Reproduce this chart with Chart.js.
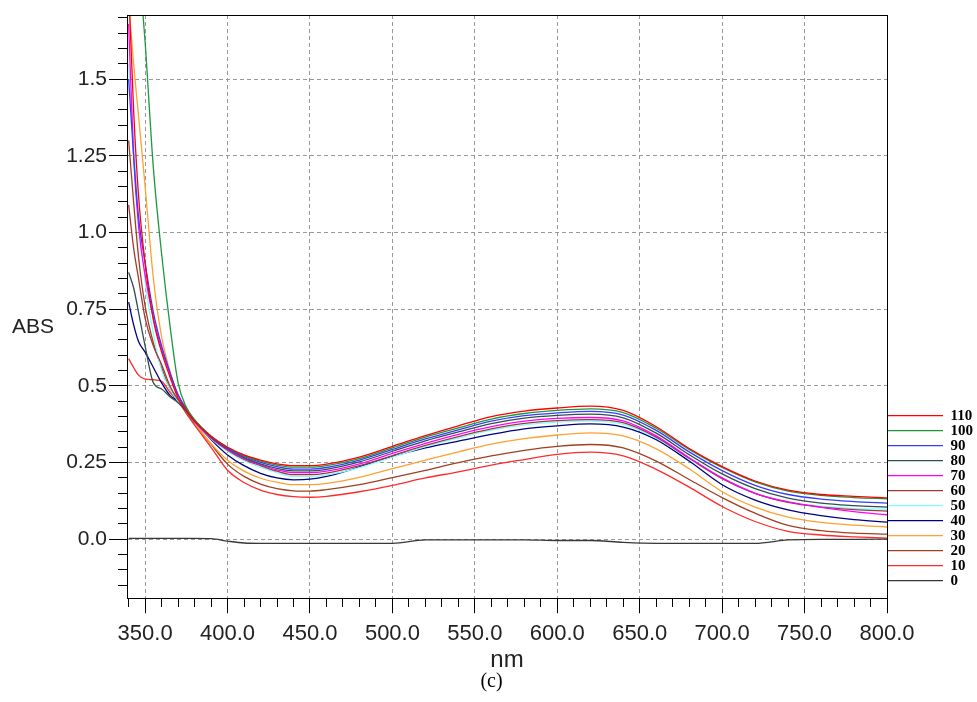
<!DOCTYPE html>
<html>
<head>
<meta charset="utf-8">
<script src="https://cdn.jsdelivr.net/npm/chart.js@4.4.1/dist/chart.umd.min.js"></script>
<style>
    html, body { margin: 0; padding: 0; background: #fff; overflow: hidden; }
    #wrap { position: relative; width: 977px; height: 702px; }
    #absLabel {
        position: absolute; left: 12px; top: 315px;
        font: 21px "Liberation Sans", Arial, sans-serif; line-height: 1; color: #222;
    }
</style>
</head>
<body>
<div id="wrap">
    <canvas id="absChart" width="977" height="702"></canvas>
    <div id="absLabel">ABS</div>
</div>
<script>
// 波长 (nm)
const wavelengths = [340, 343, 346, 350, 355, 360, 365, 370, 375, 380, 390, 400, 410, 420, 430, 440, 450, 460,
    480, 500, 520, 540, 560, 580, 600, 620, 640, 660, 680, 700, 720, 740, 760, 780, 800];

// 吸光度曲线
const abs110 = [1.80, 1.40, 1.12, 0.90, 0.715, 0.61, 0.53, 0.46, 0.420, 0.385, 0.335, 0.300, 0.275, 0.258, 0.246, 0.240, 0.240, 0.245,
    0.268, 0.303, 0.338, 0.370, 0.400, 0.418, 0.428, 0.434, 0.420, 0.367, 0.296, 0.237, 0.190, 0.160, 0.146, 0.140, 0.135];
const abs100 = [2.40, 2.15, 1.90, 1.62, 1.21, 0.93, 0.70, 0.51, 0.430, 0.390, 0.337, 0.300, 0.273, 0.255, 0.242, 0.235, 0.235, 0.240,
    0.263, 0.298, 0.333, 0.363, 0.392, 0.410, 0.420, 0.425, 0.413, 0.362, 0.293, 0.234, 0.187, 0.157, 0.143, 0.136, 0.132];
const abs90 = [1.50, 1.25, 1.05, 0.90, 0.74, 0.63, 0.545, 0.47, 0.425, 0.388, 0.335, 0.298, 0.270, 0.251, 0.237, 0.229, 0.229, 0.234,
    0.258, 0.293, 0.327, 0.357, 0.385, 0.403, 0.412, 0.417, 0.405, 0.355, 0.285, 0.224, 0.176, 0.146, 0.131, 0.123, 0.118];
const abs80 = [0.87, 0.82, 0.74, 0.63, 0.51, 0.49, 0.465, 0.445, 0.418, 0.385, 0.333, 0.295, 0.266, 0.246, 0.231, 0.223, 0.223, 0.228,
    0.252, 0.287, 0.321, 0.350, 0.377, 0.395, 0.404, 0.408, 0.396, 0.346, 0.276, 0.213, 0.165, 0.134, 0.118, 0.110, 0.105];
const abs70 = [1.68, 1.25, 1.02, 0.86, 0.72, 0.62, 0.54, 0.47, 0.420, 0.383, 0.330, 0.292, 0.263, 0.243, 0.226, 0.217, 0.217, 0.222,
    0.246, 0.280, 0.313, 0.342, 0.367, 0.385, 0.394, 0.397, 0.386, 0.337, 0.266, 0.200, 0.150, 0.122, 0.104, 0.090, 0.080];
const abs60 = [1.09, 0.95, 0.85, 0.72, 0.63, 0.57, 0.50, 0.455, 0.418, 0.383, 0.330, 0.290, 0.260, 0.240, 0.222, 0.211, 0.211, 0.216,
    0.240, 0.273, 0.306, 0.335, 0.360, 0.378, 0.387, 0.390, 0.380, 0.333, 0.264, 0.198, 0.150, 0.120, 0.105, 0.097, 0.092];
const abs50 = [1.55, 1.30, 1.05, 0.84, 0.67, 0.55, 0.49, 0.45, 0.418, 0.382, 0.328, 0.287, 0.256, 0.235, 0.217, 0.205, 0.205, 0.210,
    0.234, 0.268, 0.302, 0.330, 0.356, 0.373, 0.382, 0.385, 0.375, 0.330, 0.262, 0.198, 0.150, 0.122, 0.108, 0.101, 0.098];
const abs40 = [0.773, 0.70, 0.645, 0.61, 0.56, 0.51, 0.47, 0.45, 0.420, 0.385, 0.325, 0.275, 0.240, 0.215, 0.200, 0.194, 0.196, 0.205,
    0.236, 0.270, 0.298, 0.320, 0.342, 0.360, 0.370, 0.376, 0.366, 0.325, 0.255, 0.178, 0.128, 0.096, 0.077, 0.064, 0.056];
const abs30 = [1.75, 1.55, 1.38, 1.15, 0.85, 0.66, 0.55, 0.47, 0.430, 0.380, 0.312, 0.258, 0.222, 0.199, 0.186, 0.178, 0.178, 0.182,
    0.202, 0.230, 0.258, 0.285, 0.310, 0.328, 0.340, 0.347, 0.337, 0.295, 0.230, 0.155, 0.105, 0.072, 0.055, 0.046, 0.040];
const abs20 = [1.30, 1.10, 0.92, 0.76, 0.64, 0.56, 0.49, 0.45, 0.415, 0.378, 0.310, 0.245, 0.205, 0.180, 0.165, 0.158, 0.157, 0.162,
    0.178, 0.201, 0.225, 0.250, 0.272, 0.290, 0.303, 0.309, 0.298, 0.255, 0.195, 0.136, 0.085, 0.045, 0.028, 0.020, 0.017];
const abs10 = [0.589, 0.56, 0.535, 0.522, 0.52, 0.515, 0.48, 0.45, 0.410, 0.372, 0.300, 0.225, 0.185, 0.160, 0.146, 0.139, 0.137, 0.140,
    0.155, 0.176, 0.200, 0.220, 0.242, 0.260, 0.277, 0.284, 0.272, 0.228, 0.170, 0.107, 0.058, 0.026, 0.014, 0.008, 0.004];
const abs0 = [0.003, 0.003, 0.003, 0.003, 0.003, 0.003, 0.003, 0.003, 0.003, 0.003, 0.002, -0.006, -0.012, -0.013, -0.013, -0.013, -0.013, -0.013,
    -0.013, -0.013, -0.002, -0.002, -0.002, -0.002, -0.004, -0.004, -0.010, -0.013, -0.013, -0.013, -0.013, -0.002, 0.000, 0.000, 0.001];

const seriesLabels = ['110', '100', '90', '80', '70', '60', '50', '40', '30', '20', '10', '0'];
const seriesValues = [abs110, abs100, abs90, abs80, abs70, abs60, abs50, abs40, abs30, abs20, abs10, abs0];
const seriesColors = ['#ff0000', '#1a9a3a', '#3a3aff', '#2f4f4f', '#ff00ff', '#a03a3a',
    '#80ffff', '#000080', '#ffa030', '#a04020', '#ff2a2a', '#383838'];

const SANS = '"Liberation Sans", Arial, sans-serif';
const SERIF = '"Liberation Serif", "Times New Roman", serif';

function isMajorY(v) { return Math.abs(v * 4 - Math.round(v * 4)) < 1e-6; }
function isMajorX(v) { return Math.abs(v / 50 - Math.round(v / 50)) < 1e-6; }

function yLabel(v) {
    if (!isMajorY(v)) return '';
    const s = v.toFixed(2);
    return s.endsWith('0') ? s.slice(0, -1) : s;
}

// 图框
const frameBox = {
    id: 'frameBox',
    afterLayout(chart) {
        chart.legend.top -= 10;
        chart.legend.bottom -= 10;
    },
    afterDatasetsDraw(chart) {
        const {ctx, chartArea: a} = chart;
        ctx.save();
        ctx.strokeStyle = '#000';
        ctx.lineWidth = 1;
        ctx.strokeRect(Math.round(a.left) + 0.5, Math.round(a.top) + 0.5,
            Math.round(a.right - a.left), Math.round(a.bottom - a.top));
        ctx.restore();
    }
};

const datasets = seriesLabels.map((label, k) => ({
    label: label,
    data: wavelengths.map((w, i) => ({x: w, y: seriesValues[k][i]})),
    borderColor: seriesColors[k],
    backgroundColor: seriesColors[k],
    borderWidth: 1.3,
    pointRadius: 0,
    cubicInterpolationMode: 'monotone',
    fill: false
}));

new Chart(document.getElementById('absChart').getContext('2d'), {
    type: 'line',
    data: { datasets: datasets },
    plugins: [frameBox],
    options: {
        responsive: false,
        animation: false,
        devicePixelRatio: 1,
        layout: { padding: { left: 0, top: 15, right: -6, bottom: 10 } },
        scales: {
            x: {
                type: 'linear',
                min: 339,
                max: 800,
                ticks: {
                    stepSize: 10,
                    includeBounds: false,
                    autoSkip: false,
                    maxRotation: 0,
                    minRotation: 0,
                    padding: 8,
                    color: '#222',
                    font: { family: SANS, size: 22 },
                    callback: v => isMajorX(v) ? v.toFixed(1) : ''
                },
                grid: {
                    color: c => (c.tick && isMajorX(c.tick.value)) ? '#999' : 'rgba(0,0,0,0)',
                    lineWidth: 1,
                    tickColor: '#000',
                    tickLength: 15,
                    tickBorderDash: c => (c.tick && isMajorX(c.tick.value)) ? [] : [8, 20],
                    tickBorderDashOffset: 0
                },
                border: { color: '#000', width: 1, dash: [4, 3] },
                title: {
                    display: true,
                    text: 'nm',
                    color: '#222',
                    font: { family: SANS, size: 24, lineHeight: 1.1 },
                    padding: { top: -8, bottom: 0 }
                }
            },
            y: {
                type: 'linear',
                min: -0.192,
                max: 1.709,
                afterFit: s => { s.width = 127; },
                ticks: {
                    stepSize: 0.05,
                    includeBounds: false,
                    autoSkip: false,
                    padding: 2,
                    color: '#222',
                    font: { family: SANS, size: 21 },
                    callback: v => yLabel(v)
                },
                grid: {
                    color: c => (c.tick && isMajorY(c.tick.value)) ? '#999' : 'rgba(0,0,0,0)',
                    lineWidth: 1,
                    tickColor: '#000',
                    tickLength: 18,
                    tickBorderDash: c => (c.tick && isMajorY(c.tick.value)) ? [] : [9, 9],
                    tickBorderDashOffset: c => (c.tick && isMajorY(c.tick.value)) ? 0 : 9
                },
                border: { color: '#000', width: 1, dash: [4, 3] }
            }
        },
        plugins: {
            legend: {
                position: 'right',
                align: 'end',
                fullSize: false,
                labels: {
                    usePointStyle: true,
                    pointStyle: 'line',
                    pointStyleWidth: 56,
                    padding: 0,
                    color: '#000',
                    font: { family: SERIF, size: 15, weight: 'bold' }
                }
            },
            title: {
                display: true,
                text: '(c)',
                position: 'bottom',
                color: '#000',
                font: { family: SERIF, size: 20, weight: 'normal', lineHeight: 1 },
                padding: { top: -2, bottom: 0 }
            },
            tooltip: { enabled: false }
        }
    }
});
</script>
</body>
</html>
